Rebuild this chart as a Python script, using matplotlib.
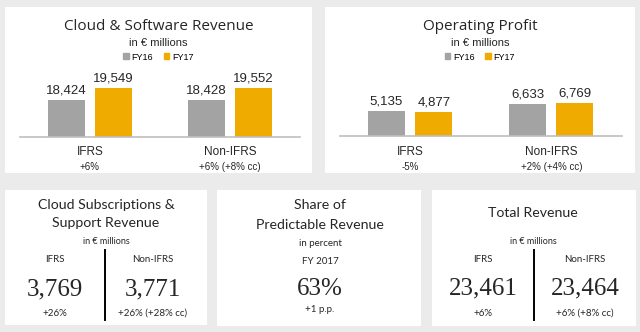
import matplotlib.pyplot as plt
import matplotlib.transforms as mtransforms
from matplotlib.patches import Rectangle, Patch
from matplotlib.lines import Line2D

W, H = 640, 332

# bar charts
groups = ['IFRS', 'Non-IFRS']
series = ['FY16', 'FY17']
cloud_sw_fy16 = [18424, 18428]
cloud_sw_fy17 = [19549, 19552]
cloud_sw_growth = ['+6%', '+6% (+8% cc)']
op_profit_fy16 = [5135, 6633]
op_profit_fy17 = [4877, 6769]
op_profit_growth = ['-5%', '+2% (+4% cc)']

# KPI tiles
cloud_subs = ['3,769', '3,771']
cloud_subs_growth = ['+26%', '+26% (+28% cc)']
predictable_share = '63%'
predictable_change = '+1 p.p.'
total_rev = ['23,461', '23,464']
total_rev_growth = ['+6%', '+6% (+8% cc)']

GRAY = '#a3a3a3'
GOLD = '#f0ab00'
BG = '#ebebeb'
TXT = '#262626'
TITLE_FONT = 'Open Sans'
BODY_FONT = 'Liberation Sans'
TILE_FONT = 'Lato'
BIG_FONT = 'Liberation Serif'

fig = plt.figure(figsize=(W / 100, H / 100), dpi=100)
fig.patch.set_facecolor(BG)


def fx(px):
    return px / W


def fy(py):
    return 1 - py / H


def panel(x0, y0, x1, y1):
    fig.add_artist(Rectangle((fx(x0), fy(y1)), fx(x1 - x0), (y1 - y0) / H,
                             transform=fig.transFigure, facecolor='white',
                             edgecolor='none', zorder=-5))


def ftext(px, py, s, size, family, **kw):
    fig.text(fx(px), fy(py), s, fontsize=size, family=family, color=TXT,
             ha='center', va='center', **kw)


def bar_chart(box, ylim, fy16, fy17, growth, title, cx):
    x0, ytop, x1, ybase = box
    ax = fig.add_axes([fx(x0), fy(ybase), fx(x1 - x0), (ybase - ytop) / H])
    ax.set_facecolor('none')
    xs = range(len(groups))
    w = 0.265
    b1 = ax.bar([x - 0.17 for x in xs], fy16, w, color=GRAY)
    b2 = ax.bar([x + 0.165 for x in xs], fy17, w, color=GOLD)
    for bars, vals in ((b1, fy16), (b2, fy17)):
        for b, v in zip(bars, vals):
            ax.annotate(f'{v:,}', (b.get_x() + b.get_width() / 2, v),
                        xytext=(0, 2.5), textcoords='offset points',
                        ha='center', va='bottom', fontsize=9.5,
                        family=BODY_FONT, color=TXT)
    ax.set_xlim(-0.5, 1.5)
    ax.set_ylim(*ylim)
    for s in ('top', 'right', 'left'):
        ax.spines[s].set_visible(False)
    ax.spines['bottom'].set_color('#bfbfbf')
    ax.spines['bottom'].set_linewidth(1.2)
    ax.set_xticks([])
    ax.set_yticks([])
    tr = mtransforms.blended_transform_factory(ax.transData, fig.transFigure)
    for x, g, gr in zip(xs, groups, growth):
        ax.text(x, fy(152), g, transform=tr, ha='center', va='center',
                fontsize=8.5, family=BODY_FONT, color=TXT)
        ax.text(x, fy(167), gr, transform=tr, ha='center', va='center',
                fontsize=7, family=BODY_FONT, color=TXT)
    ftext(cx, 26, title, 11, TITLE_FONT)
    ftext(cx, 43, 'in € millions', 8, BODY_FONT)
    handles = [Patch(color=GRAY), Patch(color=GOLD)]
    fig.legend(handles, series, loc='center', bbox_to_anchor=(fx(cx), fy(57)),
               ncol=2, frameon=False, handlelength=0.6,
               handleheight=0.6, handletextpad=0.3, columnspacing=1.2,
               borderpad=0, prop={'family': BODY_FONT, 'size': 6.5})


# top row panels
panel(5, 7, 312, 173)
panel(325, 7, 635, 173)
bar_chart((20, 60, 300, 137), (15000, 22200), cloud_sw_fy16, cloud_sw_fy17,
          cloud_sw_growth, 'Cloud & Software Revenue', 158.5)
bar_chart((340, 60, 622, 136), (0, 15670), op_profit_fy16, op_profit_fy17,
          op_profit_growth, 'Operating Profit', 480)

# bottom row tiles
panel(5, 190, 207, 325)
panel(217, 190, 421, 326)
panel(432, 190, 636, 326)

TSZ = 10.2   # tile titles
SSZ = 7      # tile small print


def divider(px):
    fig.add_artist(Line2D([fx(px), fx(px)], [fy(250), fy(320)],
                          transform=fig.transFigure, color='black', lw=1.4))


# Cloud Subscriptions & Support Revenue
ftext(106, 205, 'Cloud Subscriptions &', TSZ, TILE_FONT)
ftext(106, 223, 'Support Revenue', TSZ, TILE_FONT)
ftext(106, 242, 'in € millions', 6.5, TILE_FONT)
divider(105)
for cx, lab, val, gr in zip((55, 153), groups, cloud_subs, cloud_subs_growth):
    ftext(cx, 260, lab, SSZ, TILE_FONT)
    ftext(cx, 289, val, 18, BIG_FONT)
    ftext(cx, 313, gr, SSZ, TILE_FONT)

# Share of Predictable Revenue
ftext(320, 205, 'Share of', TSZ, TILE_FONT)
ftext(320, 225, 'Predictable Revenue', TSZ, TILE_FONT)
ftext(320, 243, 'in percent', SSZ, TILE_FONT)
ftext(320, 262, 'FY 2017', SSZ, TILE_FONT)
ftext(320, 289, predictable_share, 18, BIG_FONT)
ftext(320, 310, predictable_change, SSZ, TILE_FONT)

# Total Revenue
ftext(533, 213, 'Total Revenue', TSZ, TILE_FONT)
ftext(533, 241, 'in € millions', 6.5, TILE_FONT)
divider(534)
for cx, lab, val, gr in zip((483, 585), groups, total_rev, total_rev_growth):
    ftext(cx, 260, lab, SSZ, TILE_FONT)
    ftext(cx, 288, val, 18, BIG_FONT)
    ftext(cx, 313, gr, SSZ, TILE_FONT)

fig.savefig('out.png', dpi=100, facecolor=fig.get_facecolor())
